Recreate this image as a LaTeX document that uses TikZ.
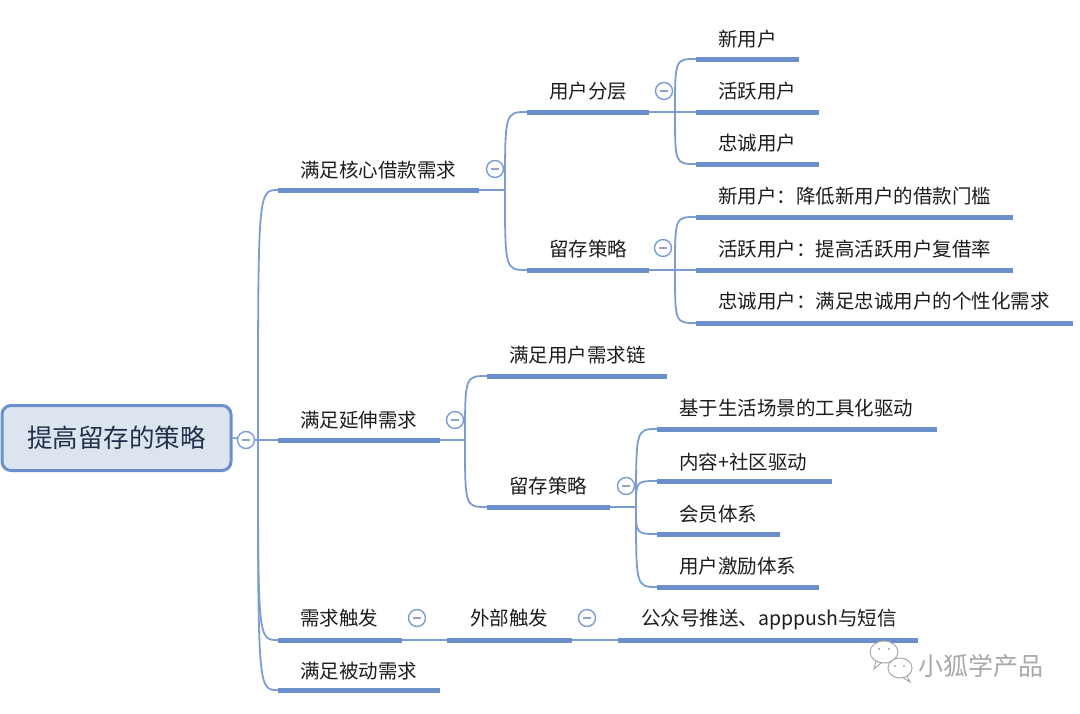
\documentclass[tikz,border=0pt]{standalone}
\usepackage{fontspec}
\setmainfont{Noto Sans CJK SC}
\definecolor{bl}{HTML}{6A8FCA}
\definecolor{blt}{HTML}{7B9CD2}
\definecolor{foldc}{HTML}{8EA3C8}
\definecolor{rootfill}{HTML}{DCE4F0}
\definecolor{txt}{HTML}{1C1C1C}
\definecolor{roottxt}{HTML}{22304A}
\definecolor{wmc}{HTML}{A8A8A8}
\tikzset{
 topic/.style={anchor=west, inner sep=0pt, text=txt, font=\fontsize{19.5}{22}\selectfont, text height=0.88em, text depth=0.12em, yshift=-3.5pt},
 uline/.style={draw=bl, line width=5pt},
 conn/.style={draw=blt, line width=1.8pt},
 fold/.style={circle, draw=blt, line width=1.4pt, fill=white, minimum size=17pt, inner sep=0pt,
   path picture={\draw[foldc,line width=1.6pt] ([xshift=-4pt]path picture bounding box.center) -- ([xshift=4pt]path picture bounding box.center);}},
}
\newcommand\mytopic[7]{%
 \node[topic] (#1) at (#3,#4) {#2};
 \coordinate (#1L) at (#5,#7);
 \coordinate (#1R) at (#6,#7);
 \draw[uline] (#1L) -- (#1R);
}
\newcommand\branchto[2]{\draw[conn] (#1) .. controls (#1 |- #2) .. (#2);}
\begin{document}
\begin{tikzpicture}[x=1pt,y=-1pt]
\useasboundingbox (0,0) rectangle (1080,713);
% root
\node[draw=bl, line width=3pt, fill=rootfill, rounded corners=9pt, minimum width=229pt, minimum height=65pt, inner sep=0pt,
  font=\fontsize{25.5}{28}\selectfont, text=roottxt] (root) at (116.5,438) {提高留存的策略};
\coordinate (rb) at (258,440);
% level 1
\mytopic{A}{满足核心借款需求}{300}{170}{278}{479}{190}
\mytopic{B}{满足延伸需求}{300}{420}{278}{440}{440}
\mytopic{C}{需求触发}{300}{618}{278}{402}{640}
\mytopic{D}{满足被动需求}{300}{671}{278}{440}{690}
% A children
\mytopic{AA}{用户分层}{549}{91}{527}{649}{112}
\mytopic{AB}{留存策略}{549}{249}{527}{649}{270}
\mytopic{AAa}{新用户}{718}{39}{696}{799}{59}
\mytopic{AAb}{活跃用户}{718}{91}{696}{819}{112}
\mytopic{AAc}{忠诚用户}{718}{143}{696}{819}{164}
\mytopic{ABa}{新用户：降低新用户的借款门槛}{718}{196}{696}{1013}{217}
\mytopic{ABb}{活跃用户：提高活跃用户复借率}{718}{249}{696}{1013}{270}
\mytopic{ABc}{忠诚用户：满足忠诚用户的个性化需求}{718}{301}{696}{1073}{323}
% B children
\mytopic{BA}{满足用户需求链}{509}{355}{487}{667}{376}
\mytopic{BB}{留存策略}{509}{486}{487}{610}{507}
\mytopic{BBa}{基于生活场景的工具化驱动}{679}{408}{657}{937}{429}
\mytopic{BBb}{内容+社区驱动}{679}{462}{657}{832}{481}
\mytopic{BBc}{会员体系}{679}{514}{657}{780}{534}
\mytopic{BBd}{用户激励体系}{679}{566}{657}{819}{587}
% C children
\mytopic{CA}{外部触发}{470}{618}{447}{572}{640}
\mytopic{CAa}{公众号推送、apppush与短信}{641}{618}{618}{918}{640}
% branch points
\coordinate (Ab) at (505,190);
\coordinate (AAbr) at (675,112);
\coordinate (ABbr) at (675,270);
\coordinate (Bb) at (465,440);
\coordinate (BBbr) at (636,507);
% connectors
\draw[conn] (root.east) -- (rb);
\branchto{rb}{AL}
\draw[conn] (rb) -- (BL);
\branchto{rb}{CL}
\branchto{rb}{DL}
\draw[conn] (AR) -- (Ab);
\branchto{Ab}{AAL}
\branchto{Ab}{ABL}
\draw[conn] (AAR) -- (AAbr);
\branchto{AAbr}{AAaL}
\draw[conn] (AAbr) -- (AAbL);
\branchto{AAbr}{AAcL}
\draw[conn] (ABR) -- (ABbr);
\branchto{ABbr}{ABaL}
\draw[conn] (ABbr) -- (ABbL);
\branchto{ABbr}{ABcL}
\draw[conn] (BR) -- (Bb);
\branchto{Bb}{BAL}
\branchto{Bb}{BBL}
\draw[conn] (BBR) -- (BBbr);
\branchto{BBbr}{BBaL}
\branchto{BBbr}{BBbL}
\branchto{BBbr}{BBcL}
\branchto{BBbr}{BBdL}
\draw[conn] (CR) -- (CAL);
\draw[conn] (CAR) -- (CAaL);
% fold markers
\node[fold] (f0) at (246,440) {};
\node[fold] (fA) at (495,169) {};
\node[fold] (fB) at (455,420) {};
\node[fold] (fC) at (417,618) {};
\node[fold] (fAA) at (664,91) {};
\node[fold] (fAB) at (663,248) {};
\node[fold] (fBB) at (626,486) {};
\node[fold] (fCA) at (587,618) {};
% watermark
\begin{scope}[draw=wmc, line width=1pt]
 \draw[fill=white] (884,652) ellipse [x radius=14, y radius=11];
 \draw (876,661) -- (874,669) -- (882,662);
 \draw[fill=white] (900,668) ellipse [x radius=12, y radius=10];
 \draw (907,676) -- (910,682) -- (902,677);
 \fill[wmc] (879,649) circle (1.2) (889,649) circle (1.2) (895,666) circle (1.1) (904,666) circle (1.1);
\end{scope}
\node[font=\fontsize{25}{28}\selectfont, text=wmc, inner sep=0pt] (wm) at (981,666) {小狐学产品};
\end{tikzpicture}
\end{document}
